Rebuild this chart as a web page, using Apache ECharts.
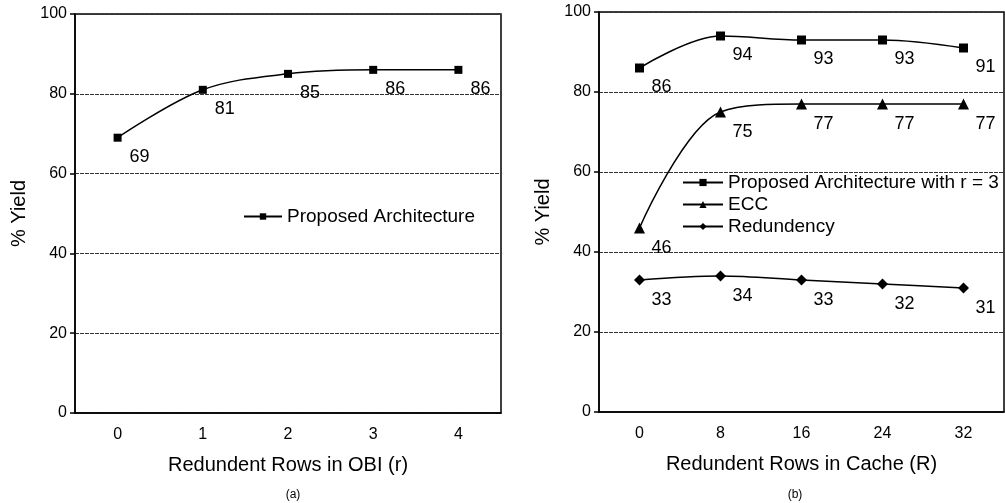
<!DOCTYPE html>
<html>
<head>
<meta charset="utf-8">
<script src="https://cdn.jsdelivr.net/npm/echarts@6/dist/echarts.min.js"></script>
<style>
  html, body { margin: 0; padding: 0; background: #fff; }
  #main { width: 1005px; height: 503px; }
</style>
</head>
<body>
<div id="main"></div>
<script>
// chart (a)
var obiRows = ['0', '1', '2', '3', '4'];
var proposedA = [69, 81, 85, 86, 86];
// chart (b)
var cacheRows = ['0', '8', '16', '24', '32'];
var proposedB = [86, 94, 93, 93, 91];
var ecc = [46, 75, 77, 77, 77];
var redundancy = [33, 34, 33, 32, 31];

var FONT = 'Liberation Sans, Arial, sans-serif';

function xAx(idx, data, name) {
    return {
        type: 'category', gridIndex: idx, data: data,
        name: name, nameLocation: 'middle', nameGap: 42,
        nameTextStyle: { fontFamily: FONT, fontSize: 20, color: '#000' },
        axisLine: { lineStyle: { color: '#000', width: 1.5 } },
        axisTick: { length: 5, lineStyle: { color: '#000', width: 1.5 } },
        axisLabel: { fontFamily: FONT, fontSize: 16, color: '#000', margin: 14 },
        splitLine: { show: false }
    };
}
function yAx(idx) {
    return {
        type: 'value', gridIndex: idx, min: 0, max: 100, interval: 20,
        name: '% Yield', nameLocation: 'middle', nameGap: 46, nameRotate: 90,
        nameTextStyle: { fontFamily: FONT, fontSize: 20, color: '#000' },
        axisLine: { show: true, lineStyle: { color: '#000', width: 1.5 } },
        axisTick: { show: true, length: 5, lineStyle: { color: '#000', width: 1.5 } },
        axisLabel: { fontFamily: FONT, fontSize: 16, color: '#000', margin: 8 },
        splitLine: { lineStyle: { color: '#333', width: 1, type: [4, 1] } }
    };
}
function line(name, idx, data, symbol, size) {
    return {
        name: name, type: 'line', xAxisIndex: idx, yAxisIndex: idx,
        data: data, smooth: 0.35, symbol: symbol, symbolSize: size,
        lineStyle: { color: '#000', width: 1.5 },
        itemStyle: { color: '#000' },
        label: {
            show: true, position: 'bottom', offset: [22, 1],
            fontFamily: FONT, fontSize: 18, color: '#000'
        }
    };
}

var myChart = echarts.init(document.getElementById('main'));
var option = {
    backgroundColor: '#fff',
    animation: false,
    grid: [
        { left: 75, top: 14, width: 426, height: 399, show: true, borderColor: '#000', borderWidth: 1.5 },
        { left: 599, top: 12, width: 405, height: 400, show: true, borderColor: '#000', borderWidth: 1.5 }
    ],
    title: [
        { text: '(a)', left: 288, top: 484, textAlign: 'center',
          textStyle: { fontFamily: FONT, fontSize: 12, fontWeight: 'normal', color: '#000' } },
        { text: '(b)', left: 790, top: 484, textAlign: 'center',
          textStyle: { fontFamily: FONT, fontSize: 12, fontWeight: 'normal', color: '#000' } }
    ],
    legend: [
        { data: ['Proposed Architecture'], left: 238, top: 202, itemWidth: 38, itemHeight: 8,
          textStyle: { fontFamily: FONT, fontSize: 19, color: '#000' } },
        { data: ['Proposed Architecture with r = 3', 'ECC', 'Redundency'], orient: 'vertical',
          left: 677, top: 168, itemWidth: 40, itemHeight: 9, itemGap: 3,
          textStyle: { fontFamily: FONT, fontSize: 19, color: '#000' } }
    ],
    xAxis: [
        xAx(0, obiRows, 'Redundent Rows in OBI (r)'),
        xAx(1, cacheRows, 'Redundent Rows in Cache (R)')
    ],
    yAxis: [yAx(0), yAx(1)],
    series: [
        line('Proposed Architecture', 0, proposedA, 'rect', 8),
        line('Proposed Architecture with r = 3', 1, proposedB, 'rect', 9),
        line('ECC', 1, ecc, 'triangle', 11),
        line('Redundency', 1, redundancy, 'diamond', [11, 11])
    ]
};
myChart.setOption(option);
</script>
</body>
</html>
